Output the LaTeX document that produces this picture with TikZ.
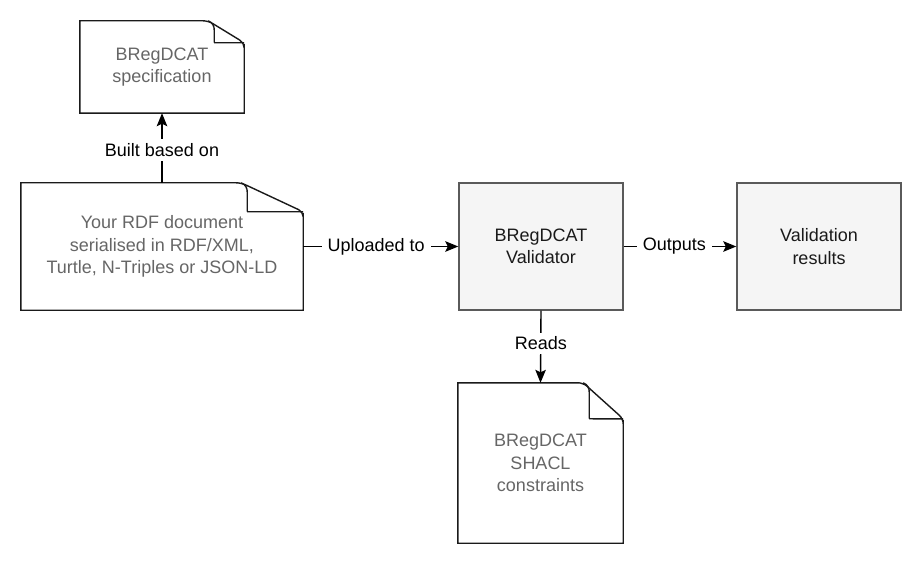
\documentclass[tikz,border=0pt]{standalone}
\usepackage{fontspec}
\setmainfont{Liberation Sans}
\usetikzlibrary{arrows.meta,calc}
\definecolor{boxfill}{HTML}{F5F5F5}
\definecolor{boxline}{HTML}{5A5A5A}
\definecolor{boxtext}{HTML}{1A1A1A}
\definecolor{doctext}{HTML}{666666}
\definecolor{docline}{HTML}{1A1A1A}
\tikzset{
  base/.style={font=\fontsize{18}{22.5}\selectfont, align=center, inner sep=0pt},
  docnode/.style={base, text=doctext},
  procbox/.style={base, draw=boxline, fill=boxfill, text=boxtext, line width=1.4pt},
  docstroke/.style={draw=docline, line width=1.4pt},
  conn/.style={draw=black, line width=1.4pt, -{Stealth[length=13pt,width=10.5pt,inset=2.5pt]}},
  elabel/.style={base, fill=white, text=black, inner xsep=6pt, inner ysep=4pt},
}
% #1 node name, #2 fold width, #3 fold height (pt)
\newcommand\docoutline[3]{%
  \path let \p1=(#1.north west), \p2=(#1.south east) in
    coordinate (#1-a) at (\x1,\y1)
    coordinate (#1-b) at (\x2-#2-6pt,\y1)
    coordinate (#1-c) at (\x2-#2,\y1)
    coordinate (#1-d) at (\x2,\y1-#3)
    coordinate (#1-e) at (\x2,\y1-#3-6pt)
    coordinate (#1-f) at (\x2,\y2)
    coordinate (#1-g) at (\x1,\y2)
    coordinate (#1-i1) at (\x2-#2+6pt,\y1-9pt)
    coordinate (#1-i2) at (\x2-#2+6pt,\y1-#3+1pt);
  \draw[docstroke, fill=white] (#1-a) -- (#1-b) [rounded corners=5pt] -- (#1-c) -- (#1-d) -- (#1-e) [sharp corners] -- (#1-f) -- (#1-g) -- cycle;
  \draw[docstroke] (#1-c) .. controls ($(#1-c)+(5pt,-2pt)$) and ($(#1-i1)+(0,3pt)$) .. (#1-i1) -- (#1-i2) .. controls ($(#1-i2)+(0,-1pt)$) .. ($(#1-i2)+(4pt,-1pt)$) -- (#1-d);
}
\begin{document}
\begin{tikzpicture}[x=1pt,y=-1pt]
\useasboundingbox (0,0) rectangle (921,564);
% nodes (positions in pixels)
\node[docnode, minimum width=164pt, minimum height=92pt] (spec) at (162,67) {};
\docoutline{spec}{36pt}{22pt}
\node[docnode] at (spec.center) {BRegDCAT\\specification};

\node[docnode, minimum width=282pt, minimum height=127pt] (rdf) at (162,246.5) {};
\docoutline{rdf}{62pt}{29pt}
\node[docnode] at (rdf.center) {Your RDF document\\serialised in RDF/XML,\\Turtle, N-Triples or JSON-LD};

\node[procbox, minimum width=164pt, minimum height=127pt] (val) at (541,246.5) {BRegDCAT\\Validator};
\node[procbox, minimum width=164pt, minimum height=127pt] (res) at (819,246.5) {Validation\\results};

\node[docnode, minimum width=165pt, minimum height=160pt] (shacl) at (540.5,463) {};
\docoutline{shacl}{40pt}{36pt}
\node[docnode] at (shacl.center) {BRegDCAT\\SHACL\\constraints};

% connectors
\draw[conn] (rdf.north) -- node[elabel, pos=0.47] {Built based on} (spec.south);
\draw[conn] (rdf.east) -- node[elabel, pos=0.47] {Uploaded to} (val.west);
\draw[conn] (val.east) -- node[elabel, pos=0.45] {Outputs} (res.west);
\draw[conn] (val.south) -- node[elabel, pos=0.45] {Reads} (shacl.north);
\end{tikzpicture}
\end{document}
